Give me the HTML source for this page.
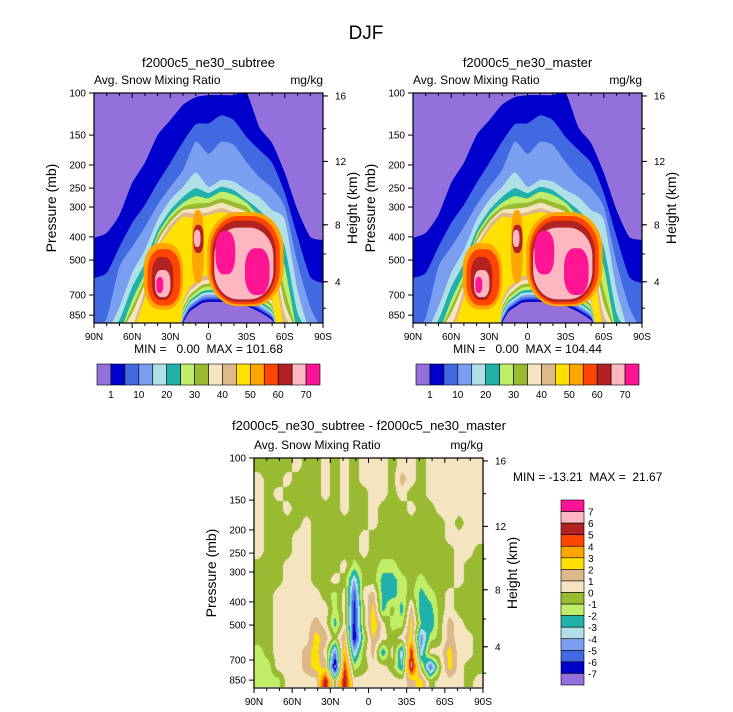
<!DOCTYPE html>
<html><head><meta charset="utf-8">
<style>
body{margin:0;background:#fff;}
#wrap{position:relative;width:733px;height:712px;overflow:hidden;background:#fff;font-family:"Liberation Sans",Arial,sans-serif;}
#diffCanvas{position:absolute;left:254px;top:458px;}
#svg{position:absolute;left:0;top:0;}
</style></head>
<body>
<div id="wrap">
<canvas id="diffCanvas" width="230" height="229"></canvas>
<svg id="svg" width="733" height="712" xmlns="http://www.w3.org/2000/svg">
<text x="366" y="39" font-size="19" text-anchor="middle">DJF</text>
</svg>
</div>
<script>
// ---- shared palette (16 contour fills) ----
const palette = ["#9370db","#0000cd","#4169e1","#7b9ff0","#b0e0e6","#20b2aa","#c0ee68","#98bb32","#f5e4c0","#ddb888","#ffe000","#ffa500","#ff4500","#b22222","#ffb6c1","#ff1493"];
const cbarLabelsTop = ["1","10","20","30","40","50","60","70"];
const cbarLabelsDiff = ["7","6","5","4","3","2","1","0","-1","-2","-3","-4","-5","-6","-7"];
const pressureTicks = [100,150,200,250,300,400,500,700,850];
const heightTicks = [16,12,8,4];
const latTicks = [90,60,30,0,-30,-60,-90];
const latTickLabels = ["90N","60N","30N","0","30S","60S","90S"];

// ---- top panels: level isoline tops (mb) at these latitudes ----
const domeLats = [90,80,70,60,50,40,30,20,10,0,-10,-20,-30,-40,-50,-60,-70,-80,-90];
const dome1 = [404,385,324,238,196,150,130,112,104,102,102,102,100,139,162,216,309,400,412];
const dome2 = [595,566,441,350,294,238,196,160,135,134,124,130,153,173,196,262,400,588,624];
const dome3 = [1000,875,534,441,364,294,247,210,160,180,160,165,195,225,250,300,515,787,1000];
const dome4 = [1000,1000,787,566,454,340,280,247,215,247,231,235,255,272,309,340,668,1000,1000];
const dome5 = [1000,1000,890,648,515,374,309,272,250,262,247,255,280,309,350,441,832,1000,1000];
const dome6 = [1000,1000,1000,736,566,392,324,288,270,276,259,267,288,330,385,534,1000,1000,1000];
const dome7 = [1000,1000,1000,787,595,404,333,300,290,288,276,286,300,347,412,668,1000,1000,1000];
const dome8 = [1000,1000,1000,833,624,420,347,309,305,300,288,300,315,364,441,760,1000,1000,1000];
const dome9 = [1000,1000,1000,950,668,441,356,318,320,315,303,315,324,374,463,850,1000,1000,1000];
const dome10 = [1000,1000,1000,1000,721,454,374,330,335,324,315,324,330,385,485,1000,1000,1000,1000];
const domes = [dome1,dome2,dome3,dome4,dome5,dome6,dome7,dome8,dome9,dome10];

// near-surface minimum ("hole") and its surrounding bands
const holeLats = [22,20,15,10,5,0,-10,-20,-30,-40,-50,-54];
const holeTop = [1000,919,824,787,757,749,749,757,779,824,893,1000];
const holeBandDp = [0,18,34,50,66,82,102,122,145,170];

// maxima blobs: level, north lat, south lat, top p, bottom p
const blobLevel = [11,12,13,14,15, 11,13,14, 11,12,13,14,15,15];
const blobLatN = [51,48,44.6,42,41, 13,12,11.5, 1,-1.5,-3,-4.5,-5.5,-28.7];
const blobLatS = [20,22,27.6,30,35.6, 3.6,4,6.3, -59,-56,-53,-51,-21,-48];
const blobPTop = [425,450,485,550,588, 309,356,374, 315,327,342,366,378,446];
const blobPBot = [805,775,735,715,687, 624,467,441, 780,765,748,730,574,700];

// ---- difference field grid ----
const diffLats = [86.25,78.75,71.25,63.75,56.25,48.75,41.25,33.75,26.25,18.75,11.25,3.75,-3.75,-11.25,-18.75,-26.25,-33.75,-41.25,-48.75,-56.25,-63.75,-71.25,-78.75,-86.25];
const diffP = [107,123,141,163,187,215,246,283,325,374,429,494,567,651,749,859];
const diffRows = [
[-.5,-.5,-.5,-.5,.5,-.5,-.5,.5,-.5,.5,-.5,.5,.5,.5,-.5,.5,.5,-.5,.5,.5,.5,.5,.5,.5],
[.5,-.5,-.5,.5,-.5,-.5,-.5,.5,-.5,.5,-.5,.5,.5,.5,-.5,1.5,.5,-.5,.5,.5,.5,.5,.5,.5],
[.5,-.5,.5,-.5,-.5,-.5,-.5,.5,-.5,.5,-.5,-.5,.5,.5,-.5,.5,-.5,-.5,.5,.5,.5,.5,.5,.5],
[.5,-.5,-.5,.5,-.5,-.5,-.5,-.5,-.5,.5,-.5,-.5,.5,-.5,-.5,-.5,.5,-.5,-.5,.5,.5,.5,.5,.5],
[.5,-.5,-.5,-.5,-.5,.5,-.5,-.5,-.5,-.5,-.5,-.5,.5,-.5,-.5,-.5,-.5,-.5,-.5,-.5,.5,-.5,.5,.5],
[.5,-.5,-.5,-.5,.5,.5,-.5,-.5,-.5,-.5,-.5,.5,-.5,-.5,-.5,-.5,-.5,-.5,-.5,-.5,.5,.5,.5,.5],
[.5,-.5,-.5,-.5,.5,.5,-.5,-.5,-.5,-.5,-.5,.5,-.5,-.5,-.5,-.5,-.5,-.5,-.5,-.5,-.5,.5,.5,-.5],
[-.5,-.5,-.5,.5,.5,.5,-.5,-.5,-.5,.5,-1.5,-.5,-.5,-1.5,-1.5,-.5,-.5,-.5,-.5,-.5,-.5,.5,-.5,-.5],
[-.5,-.5,-.5,.5,.5,.5,-.5,-.5,.5,-.5,-4,-.5,-.5,-2.5,-2.5,-1.5,-.5,-1.5,-.5,-.5,-.5,.5,-.5,-.5],
[-.5,-.5,.5,.5,.5,.5,.5,-.5,-1.5,.5,-6,.5,1.5,-2.5,-2.5,-1.5,-.5,-2.5,-1.5,-.5,.5,-.5,-.5,-.5],
[-.5,-.5,.5,.5,.5,.5,.5,.5,-1.5,.5,-6.5,-.5,2.5,-2.5,-.5,-2.5,1.5,-3,-2.5,-.5,.5,-.5,-.5,-.5],
[-.5,-.5,.5,.5,.5,.5,1.5,.5,-2.5,.5,-6.5,-.5,3,.5,-1.5,-1.5,2.5,-2,-3,-.5,1.5,.5,-.5,-.5],
[-.5,-.5,.5,.5,.5,.5,2.5,1.5,-.5,2,-7,-1.5,2,.5,-.5,.5,2.5,-5,-1.5,-.5,1.5,.5,.5,-.5],
[-1.5,-.5,.5,.5,.5,1.5,2.5,.5,-5,3,-4,-.5,1.5,-3,.5,-4,5.5,-4,.5,.5,2.5,.5,.5,-.5],
[-1.5,-1.5,.5,.5,.5,1.5,2.5,1.5,-8,5,-1.5,-.5,.5,.5,-.5,-3,6.5,-.5,-5.5,-.5,2.5,.5,-.5,-.5],
[-1.5,-1.5,-1.5,.5,.5,.5,.5,6,-.5,6,.5,.5,.5,.5,.5,.5,1.5,2.5,-.5,.5,.5,.5,-.5,.5]
];
const diffBounds = [-7,-6,-5,-4,-3,-2,-1,0,1,2,3,4,5,6,7];

const NS = "http://www.w3.org/2000/svg";
const svg = document.getElementById("svg");
const PW = 229, PH = 230, LOGK = 103.8;
function xScale(lat, x0){ return x0 + (90 - lat) / 180 * PW; }
function yScale(p, y0){ return y0 + Math.log(p / 100) * LOGK; }
function hToP(h){ const m = h*1000; return m <= 11000 ? 1013.25*Math.pow(1-2.2558e-5*m,5.2559) : 226.32*Math.exp(-(m-11000)/6341.6); }
function mk(tag, attrs, parent){ const e = document.createElementNS(NS, tag); for (const k in attrs) e.setAttribute(k, attrs[k]); (parent||svg).appendChild(e); return e; }
function txt(x,y,s,size,anchor,parent){ const t = mk("text",{x:x,y:y,"font-size":size,"text-anchor":anchor||"start"},parent); t.textContent = s; return t; }

function drawAxes(x0, y0, idx){
  const g = mk("g", {});
  
  
  mk("rect",{x:x0,y:y0,width:PW,height:PH,fill:"none",stroke:"#000","stroke-width":1.2},g);
  pressureTicks.forEach(p => {
    const y = yScale(p, y0);
    mk("line",{x1:x0-5,x2:x0,y1:y,y2:y,stroke:"#000"},g);
    const t = txt(x0-8, y+3.5, String(p), 10, "end", g);
    
    
  });
  heightTicks.forEach(h => {
    const y = yScale(hToP(h), y0);
    mk("line",{x1:x0+PW,x2:x0+PW+5,y1:y,y2:y,stroke:"#000"},g);
    const t = txt(x0+PW+12, y+3.5, String(h), 10, "start", g);
    
    
  });
  for (let h = 2; h <= 16; h += 2){
    const p = hToP(h); if (p > 917) continue;
    const y = yScale(p, y0);
    mk("line",{x1:x0+PW,x2:x0+PW+3,y1:y,y2:y,stroke:"#000"},g);
  }
  for (let lat = 90; lat >= -90; lat -= 10){
    const x = xScale(lat, x0); const major = lat % 30 === 0;
    mk("line",{x1:x,x2:x,y1:y0+PH,y2:y0+PH+(major?5:3),stroke:"#000"},g);
    mk("line",{x1:x,x2:x,y1:y0,y2:y0+(major?5:3),stroke:"#000"},g);
  }
  latTicks.forEach((lat,i) => {
    const t = txt(xScale(lat,x0), y0+PH+17, latTickLabels[i], 10, "middle", g);
    
    
  });
  const yl = txt(0,0,"Pressure (mb)",14,"middle",g);
  yl.setAttribute("transform","translate("+(x0-38)+","+(y0+PH/2)+") rotate(-90)");
  
  
  const yr = txt(0,0,"Height (km)",14,"middle",g);
  yr.setAttribute("transform","translate("+(x0+PW+34)+","+(y0+PH/2)+") rotate(-90)");
  
  
  const s1 = txt(x0, y0-9, "Avg. Snow Mixing Ratio", 12, "start", g);
  
  
  const s2 = txt(x0+PW, y0-9, "mg/kg", 12, "end", g);
  
  
}

function smoothPath(pts){
  let d = "M" + pts[0][0].toFixed(1) + "," + pts[0][1].toFixed(1);
  for (let i = 0; i < pts.length-1; i++){
    const p0 = pts[Math.max(0,i-1)], p1 = pts[i], p2 = pts[i+1], p3 = pts[Math.min(pts.length-1,i+2)];
    const c1x = p1[0]+(p2[0]-p0[0])/10, c1y = p1[1]+(p2[1]-p0[1])/10;
    const c2x = p2[0]-(p3[0]-p1[0])/10, c2y = p2[1]-(p3[1]-p1[1])/10;
    d += " C"+c1x.toFixed(1)+","+c1y.toFixed(1)+" "+c2x.toFixed(1)+","+c2y.toFixed(1)+" "+p2[0].toFixed(1)+","+p2[1].toFixed(1);
  }
  return d;
}

function drawField(x0, y0, idx){
  const cid = "clip" + idx;
  const defs = mk("defs",{});
  const cp = mk("clipPath",{id:cid},defs);
  mk("rect",{x:x0,y:y0,width:PW,height:PH},cp);
  const g = mk("g",{"clip-path":"url(#"+cid+")"});
  
  
  const bg = mk("rect",{x:x0,y:y0,width:PW,height:PH,fill:palette[0]},g);
  
  
  domes.forEach((arr,k) => {
    const pts = arr.map((p,i) => [xScale(domeLats[i],x0), yScale(Math.min(p,1000),y0)]);
    let d = smoothPath(pts);
    d += " L" + xScale(-90,x0) + "," + yScale(1300,y0) + " L" + xScale(90,x0) + "," + yScale(1300,y0) + "Z";
    const path = mk("path",{d:d,fill:palette[k+1]},g);
    
    
  });
  for (let k = holeBandDp.length-1; k >= 0; k--){
    const pts = holeLats.map((lat,i) => [xScale(lat,x0), yScale(holeTop[i] >= 1000 ? 1000 : holeTop[i] - holeBandDp[k], y0)]);
    const d = smoothPath(pts) + "Z";
    const path = mk("path",{d:d,fill:palette[k]},g);
    
    
  }
  blobLevel.forEach((lev,i) => {
    const xa = xScale(blobLatN[i],x0), xb = xScale(blobLatS[i],x0);
    const ya = yScale(blobPTop[i],y0), yb = yScale(blobPBot[i],y0);
    const w = Math.abs(xb-xa), h = Math.abs(yb-ya);
    const e = mk("rect",{x:Math.min(xa,xb),y:Math.min(ya,yb),width:w,height:h,rx:w*0.4,ry:h*0.4,fill:palette[lev]},g);
    
    
  });
}

function drawHCbar(x0, y0, idx){
  const g = mk("g",{});
  
  
  const bw = 223/16;
  palette.forEach((c,i) => {
    const r = mk("rect",{x:x0+i*bw,y:y0,width:bw,height:21,fill:c,stroke:"#000","stroke-width":0.6},g);
    
    
  });
  cbarLabelsTop.forEach((s,i) => {
    const t = txt(x0+(2*i+1)*bw, y0+34, s, 10, "middle", g);
    
    
  });
}

// top panels
const panels = [{x0:94,y0:93,title:"f2000c5_ne30_subtree",stat:"MIN =   0.00  MAX = 101.68"},
                {x0:413,y0:93,title:"f2000c5_ne30_master",stat:"MIN =   0.00  MAX = 104.44"}];
panels.forEach((P,i) => {
  drawField(P.x0, P.y0, i);
  drawAxes(P.x0, P.y0, i);
  const t = txt(P.x0+PW/2, 67, P.title, 13, "middle");
  
  
  const s = txt(P.x0+PW/2, 353, P.stat, 12, "middle");
  s.style.whiteSpace = "pre";
  
  
  drawHCbar(P.x0+3, 364, i);
});

// difference panel
const DX = 254, DY = 458;
(function(){
  const cv = document.getElementById("diffCanvas");
  const ctx = cv.getContext("2d");
  const img = ctx.createImageData(230, 229);
  const rgb = palette.map(h => [parseInt(h.substr(1,2),16),parseInt(h.substr(3,2),16),parseInt(h.substr(5,2),16)]);
  const lnP = diffP.map(p => Math.log(p));
  for (let py = 0; py < 229; py++){
    const lp = Math.log(100) + (py+0.5)/LOGK;
    let r = 0;
    if (lp <= lnP[0]) r = 0; else if (lp >= lnP[lnP.length-1]) r = lnP.length-1;
    else { for (let j = 0; j < lnP.length-1; j++){ if (lp >= lnP[j] && lp <= lnP[j+1]){ r = j + (lp-lnP[j])/(lnP[j+1]-lnP[j]); break; } } }
    const r0 = Math.floor(r), r1 = Math.min(r0+1, diffP.length-1), fr = r - r0;
    for (let px = 0; px < 230; px++){
      const lat = 90 - (px+0.5)/PW*180;
      let c = (diffLats[0]-lat)/7.5; c = Math.max(0, Math.min(diffLats.length-1, c));
      const c0 = Math.floor(c), c1 = Math.min(c0+1, diffLats.length-1), fc = c - c0;
      const v = (diffRows[r0][c0]*(1-fc)+diffRows[r0][c1]*fc)*(1-fr) + (diffRows[r1][c0]*(1-fc)+diffRows[r1][c1]*fc)*fr;
      let k = 0; diffBounds.forEach(b => { if (v >= b) k++; });
      const o = (py*230+px)*4;
      img.data[o] = rgb[k][0]; img.data[o+1] = rgb[k][1]; img.data[o+2] = rgb[k][2]; img.data[o+3] = 255;
    }
  }
  ctx.putImageData(img, 0, 0);
})();
drawAxes(DX, DY, 2);
(function(){
  const t = txt(369, 430, "f2000c5_ne30_subtree - f2000c5_ne30_master", 13, "middle");
  
  
  const s = txt(513, 481, "MIN = -13.21  MAX =  21.67", 12, "start");
  s.style.whiteSpace = "pre";
  
  
  const g = mk("g",{});
  
  
  const bh = 185/16;
  for (let i = 0; i < 16; i++){
    const r = mk("rect",{x:561,y:500+i*bh,width:23,height:bh,fill:palette[15-i],stroke:"#000","stroke-width":0.6},g);
    
    
  }
  cbarLabelsDiff.forEach((s2,i) => {
    const t2 = txt(588, 500+(i+1)*bh+4, s2, 10, "start", g);
    
    
  });
})();
</script>
</body></html>
